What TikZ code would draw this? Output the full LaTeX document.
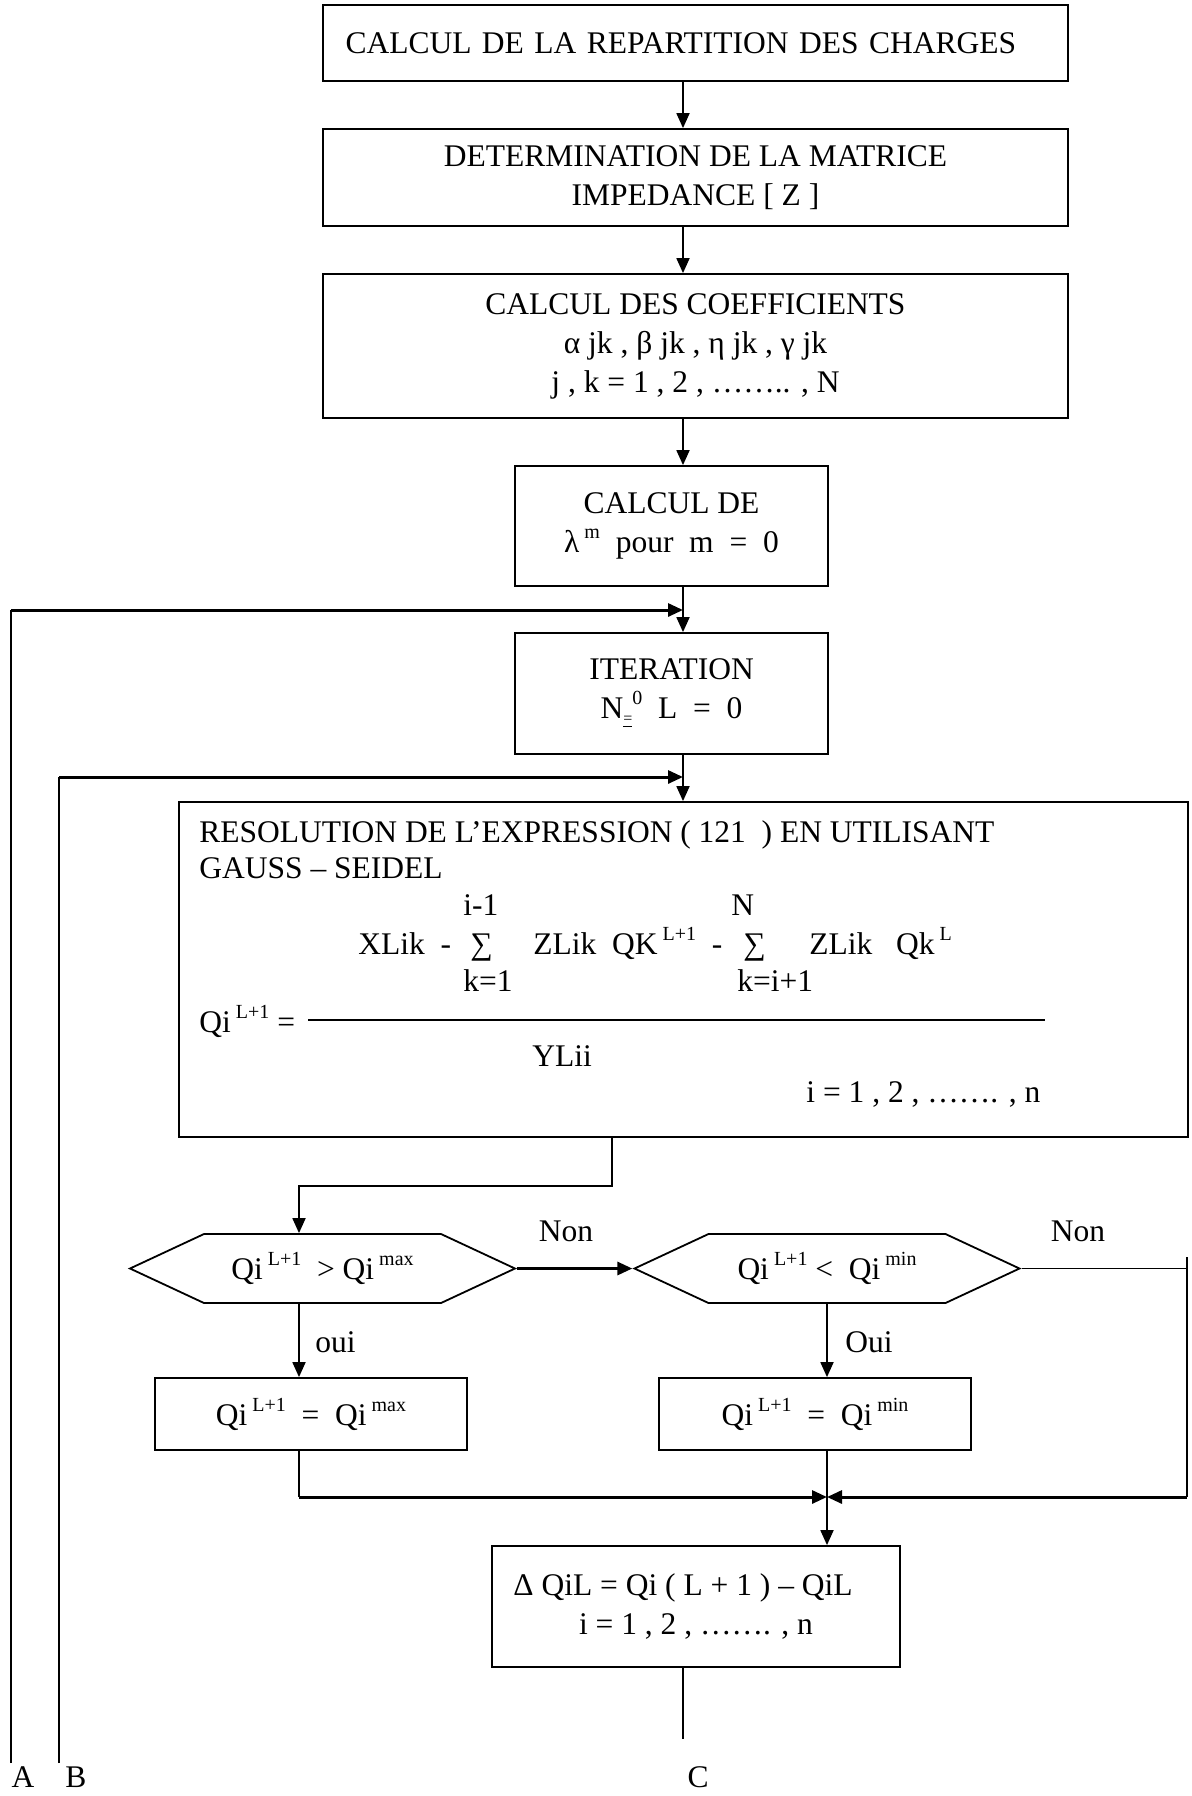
\documentclass[tikz,border=0pt]{standalone}
\usepackage{fontspec}
\setmainfont{Liberation Serif}
\usetikzlibrary{arrows.meta,shapes.symbols}
\newcommand{\expo}[1]{\raisebox{7pt}{\fontsize{10pt}{10pt}\selectfont #1}}

\begin{document}
\begin{tikzpicture}[x=0.5pt,y=-0.5pt,
    font=\fontsize{15.75pt}{19.5pt}\selectfont,
    boite/.style={draw,line width=0.9pt,align=center,inner sep=0pt},
    hexa/.style={draw,line width=0.9pt,signal,signal to=east and west,signal pointer angle=50,
        inner sep=0pt,minimum width=192.5pt,minimum height=34.5pt},
    trait/.style={line width=0.9pt},
    epais/.style={line width=1.5pt},
    fleche/.style={-{Triangle[length=7.5pt,width=6.5pt]}},
    txt/.style={anchor=base west,inner sep=0pt}]
    \useasboundingbox (0,0) rectangle (1192,1796);
    \coordinate (col) at (683,0);
    \coordinate (colg) at (299,0);
    \coordinate (cold) at (827,0);

    \node[boite,minimum width=372.5pt,minimum height=38pt,text width=350pt,align=left] (b1) at (695.5,43) {CALCUL DE LA REPARTITION DES CHARGES};
    \node[boite,minimum width=372.5pt,minimum height=48.5pt] (b2) at (695.5,177.5) {DETERMINATION DE LA MATRICE\\IMPEDANCE [ Z ]};
    \node[boite,minimum width=372.5pt,minimum height=72pt] (b3) at (695.5,346) {CALCUL DES COEFFICIENTS\\α jk , β jk , η jk , γ jk\\j , k = 1 , 2 , …….. , N};
    \node[boite,minimum width=156.5pt,minimum height=60pt] (b4) at (671.5,526) {CALCUL DE\\λ\expo{\ m}~~pour~~m~~=~~0};
    \node[boite,minimum width=156.5pt,minimum height=60.5pt] (b5) at (671.5,693.5) {ITERATION\\N\raisebox{-2.5pt}{\fontsize{8pt}{8pt}\selectfont\underline{=}}\expo{0}~~L~~=~~0};
    \node[boite,minimum width=504.5pt,minimum height=167.5pt] (b6) at (683.5,969.5) {};

    \node[txt] (r1) at (199,842) {RESOLUTION DE L’EXPRESSION ( 121~~) EN UTILISANT};
    \node[txt] (r2) at (199,878) {GAUSS – SEIDEL};
    \node[txt] (r3) at (463,915) {i-1};
    \node[txt] (r4) at (731,915) {N};
    \node[txt] (r5) at (358,954) {XLik~~-};
    \node[txt] (r6) at (470,954) {∑};
    \node[txt] (r7) at (533,954) {ZLik~~QK\expo{\ L+1}~~-};
    \node[txt] (r8) at (743,954) {∑};
    \node[txt] (r9) at (809,954) {ZLik~~~Qk\expo{\ L}};
    \node[txt] (r10) at (463,991) {k=1};
    \node[txt] (r11) at (737,991) {k=i+1};
    \node[txt] (r12) at (199,1032) {Qi\expo{\ L+1} =};
    \coordinate (f0) at (308,1020);
    \coordinate (f1) at (1045,1020);
    \draw[line width=0.7pt] (f0) -- (f1);
    \node[txt] (r13) at (532,1066) {YLii};
    \node[txt] (r14) at (806,1102) {i = 1 , 2 , ……. , n};

    \node[hexa] (h1) at (322.5,1268.5) {Qi\expo{\ L+1}~~> Qi\expo{\ max}};
    \node[hexa] (h2) at (827,1268.5) {Qi\expo{\ L+1}~<~~Qi\expo{\ min}};
    \node[boite,minimum width=156pt,minimum height=36pt] (b7) at (311,1414) {Qi\expo{\ L+1}~~=~~Qi\expo{\ max}};
    \node[boite,minimum width=156pt,minimum height=36pt] (b8) at (815,1414) {Qi\expo{\ L+1}~~=~~Qi\expo{\ min}};
    \node[boite,minimum width=204pt,minimum height=60.5pt] (b9) at (696,1606.5) {Δ QiL = Qi ( L + 1 ) – QiL\hspace*{13pt}\\i = 1 , 2 , ……. , n};

    \node[anchor=base] (non1) at (566,1241) {Non};
    \node[anchor=base] (non2) at (1078,1241) {Non};
    \node[txt] (oui1) at (315,1352) {oui};
    \node[txt] (oui2) at (845,1352) {Oui};
    \node[anchor=base] (la) at (23,1787) {A};
    \node[anchor=base] (lb) at (76,1787) {B};
    \node[anchor=base] (lc) at (698,1787) {C};

    \draw[trait,fleche] (b1.south -| col) -- (b2.north -| col);
    \draw[trait,fleche] (b2.south -| col) -- (b3.north -| col);
    \draw[trait,fleche] (b3.south -| col) -- (b4.north -| col);
    \draw[trait,fleche] (b4.south -| col) -- (b5.north -| col);
    \draw[trait,fleche] (b5.south -| col) -- (b6.north -| col);

    \coordinate (a0) at (11,1763);
    \coordinate (a1) at (11,610);
    \coordinate (bb0) at (59,1763);
    \coordinate (bb1) at (59,777);
    \draw[trait] (a0) -- (a1);
    \draw[epais,fleche] (a1) -- (a1 -| col);
    \draw[trait] (bb0) -- (bb1);
    \draw[epais,fleche] (bb1) -- (bb1 -| col);

    \coordinate (s1) at (612,1186);
    \draw[trait,fleche] (b6.south -| s1) -- (s1) -| (h1.north -| colg);
    \draw[epais,fleche] (h1.east) -- (h2.west);
    \coordinate (rd) at (1187,1257);
    \coordinate (rb) at (1187,1497);
    \draw[trait] (h2.east) -- (h2.east -| rd);
    \draw[trait] (rd) -- (rb);
    \draw[trait,fleche] (h1.south -| colg) -- (b7.north -| colg);
    \draw[trait,fleche] (h2.south -| cold) -- (b8.north -| cold);
    \draw[trait] (b7.south -| colg) -- (rb -| colg);
    \draw[epais,fleche] (rb -| colg) -- (rb -| cold);
    \draw[epais,fleche] (rb) -- (rb -| cold);
    \draw[trait,fleche] (b8.south -| cold) -- (b9.north -| cold);
    \coordinate (c0) at (683,1739);
    \draw[trait] (b9.south -| col) -- (c0);
\end{tikzpicture}
\end{document}
